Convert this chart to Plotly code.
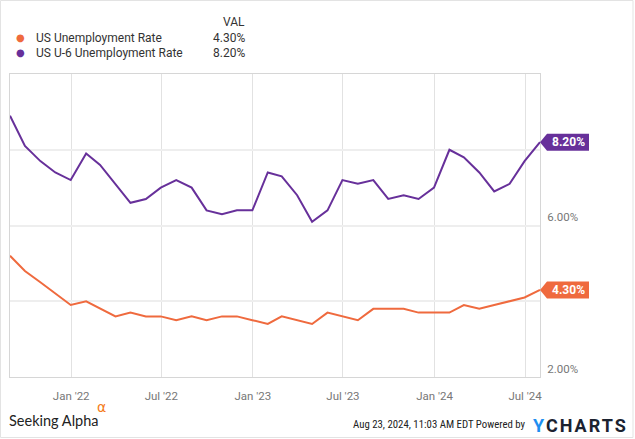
import plotly.graph_objects as go
import pandas as pd

# ---- data ----
series_names = ["US Unemployment Rate", "US U-6 Unemployment Rate"]
series_colors = ["#ef6a3e", "#67309a"]
u3 = [5.2, 4.8, 4.5, 4.2, 3.9,
      4.0, 3.8, 3.6, 3.7, 3.6, 3.6, 3.5, 3.6, 3.5, 3.6, 3.6, 3.5,
      3.4, 3.6, 3.5, 3.4, 3.7, 3.6, 3.5, 3.8, 3.8, 3.8, 3.7, 3.7,
      3.7, 3.9, 3.8, 3.9, 4.0, 4.1, 4.3]
u6 = [8.9, 8.1, 7.7, 7.4, 7.2,
      7.9, 7.6, 7.1, 6.6, 6.7, 7.0, 7.2, 7.0, 6.4, 6.3, 6.4, 6.4,
      7.4, 7.3, 6.8, 6.1, 6.4, 7.2, 7.1, 7.2, 6.7, 6.8, 6.7, 7.0,
      8.0, 7.8, 7.4, 6.9, 7.1, 7.7, 8.2]
dates = pd.date_range("2021-08-31", periods=len(u3), freq="ME")
y_ticks = [2, 4, 6, 8]
y_range = [2, 10]
footer_stamp = "Aug 23, 2024, 11:03 AM EDT Powered by"

W, H = 635, 439
L, R, T, B = 10, 95, 74, 62
PW, PH = W - L - R, H - T - B


def px(x):
    return (x - L) / PW


def py(y):
    return (H - B - y) / PH


fig = go.Figure()
for name, vals, col in zip(series_names, [u3, u6], series_colors):
    fig.add_trace(go.Scatter(x=dates, y=vals, mode="lines", name=name,
                             line=dict(color=col, width=2), showlegend=False,
                             hoverinfo="skip"))

shapes = []
annotations = []

# end-value tags
for vals, col in zip([u3, u6], series_colors):
    shapes.append(dict(type="path", xref="paper", yref="y",
                       xsizemode="pixel", ysizemode="pixel",
                       xanchor=1, yanchor=vals[-1],
                       path="M0,0 L7,8.5 L49,8.5 L49,-8.5 L7,-8.5 Z",
                       fillcolor=col, line=dict(width=0), layer="above"))
    annotations.append(dict(xref="paper", yref="y", x=1, y=vals[-1],
                            xanchor="left", yanchor="middle", xshift=10,
                            text=f"<b>{vals[-1]:.2f}%</b>", showarrow=False,
                            font=dict(family="Roboto", size=12, color="white")))

# legend block
annotations.append(dict(xref="paper", yref="paper", x=px(247), y=py(22),
                        xanchor="right", yanchor="middle", text="VAL",
                        showarrow=False,
                        font=dict(family="Roboto", size=12, color="#333")))
for i, (name, vals, col) in enumerate(zip(series_names, [u3, u6], series_colors)):
    yy = 38 + 15 * i
    annotations.append(dict(xref="paper", yref="paper", x=px(20), y=py(yy),
                            xanchor="center", yanchor="middle", text="●",
                            showarrow=False,
                            font=dict(family="DejaVu Sans", size=10, color=col)))
    annotations.append(dict(xref="paper", yref="paper", x=px(34), y=py(yy),
                            xanchor="left", yanchor="middle", text=name,
                            showarrow=False,
                            font=dict(family="Roboto", size=12, color="#333")))
    annotations.append(dict(xref="paper", yref="paper", x=px(247), y=py(yy),
                            xanchor="right", yanchor="middle",
                            text=f"{vals[-1]:.2f}%", showarrow=False,
                            font=dict(family="Roboto", size=12, color="#333")))

# footer
annotations.append(dict(xref="paper", yref="paper", x=px(7), y=py(420),
                        xanchor="left", yanchor="middle", text="Seeking Alpha",
                        showarrow=False,
                        font=dict(family="Lato", size=14.5, color="#222")))
annotations.append(dict(xref="paper", yref="paper", x=px(95), y=py(407),
                        xanchor="left", yanchor="middle", text="α",
                        showarrow=False,
                        font=dict(family="DejaVu Sans", size=14, color="#f47b20")))
annotations.append(dict(xref="paper", yref="paper", x=px(528), y=py(424),
                        xanchor="right", yanchor="middle", text=footer_stamp,
                        showarrow=False,
                        font=dict(family="Liberation Sans Narrow, Roboto Condensed, Roboto",
                                  size=10.8, color="#222")))
annotations.append(dict(xref="paper", yref="paper", x=px(531), y=py(425),
                        xanchor="left", yanchor="middle",
                        text="<span style='letter-spacing:2px'>"
                             "<span style='color:#1e8ff0'>Y</span>CHARTS</span>",
                        showarrow=False,
                        font=dict(family="Roboto", size=18, color="#1b2230",
                                  weight="bold")))

# outer frame
shapes.append(dict(type="rect", xref="paper", yref="paper",
                   x0=px(0.5), x1=px(633), y0=py(437.5), y1=py(0.5),
                   line=dict(color="#e3e3e3", width=1), layer="below"))

fig.update_layout(
    width=W, height=H, margin=dict(l=L, r=R, t=T, b=B),
    paper_bgcolor="white", plot_bgcolor="white",
    shapes=shapes, annotations=annotations, showlegend=False,
    xaxis=dict(type="date", range=[dates[0], dates[-1]],
               tick0="2022-01-01", dtick="M6", tickformat="%b '%y",
               showgrid=True, gridcolor="#e2e2e2", gridwidth=1,
               showline=True, linecolor="#d6d6d6", linewidth=1, mirror=True,
               ticks="", ticklabelstandoff=8,
               tickfont=dict(family="Roboto", size=11.5, color="#777"),
               zeroline=False, fixedrange=True),
    yaxis=dict(range=y_range, side="right", tickvals=y_ticks,
               ticktext=[f"{v:.2f}%" for v in y_ticks],
               showgrid=True, gridcolor="#eeeeee", gridwidth=2,
               showline=True, linecolor="#d6d6d6", linewidth=1, mirror=True,
               ticks="", ticklabelposition="outside top", ticklabelstandoff=4,
               tickfont=dict(family="Roboto", size=11.5, color="#777"),
               zeroline=False, fixedrange=True),
)

fig.write_html("out.html", config={"displayModeBar": False},
               post_script="document.body.style.margin='0';document.body.style.overflow='hidden';")
